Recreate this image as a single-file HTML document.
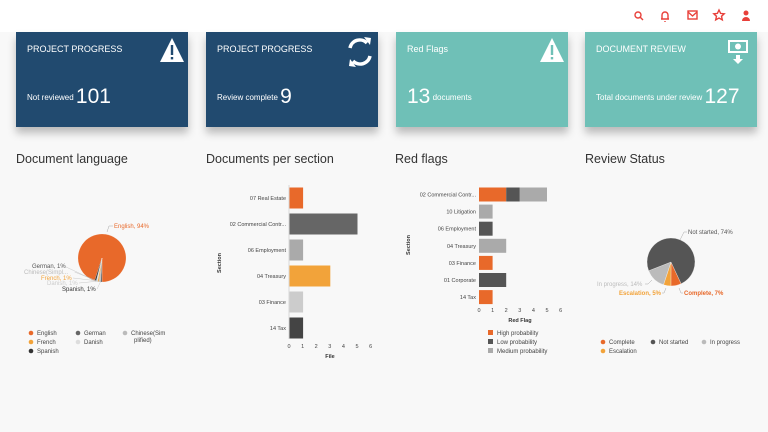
<!DOCTYPE html>
<html><head><meta charset="utf-8"><style>
body{margin:0;width:768px;height:432px;overflow:hidden;background:#f8f8f8;font-family:"Liberation Sans",sans-serif;position:relative}
.top{position:absolute;left:0;top:0;width:768px;height:32px;background:#fff}
.card{position:absolute;top:32px;width:172px;height:95px;box-shadow:0 6px 8px rgba(0,0,0,0.25);color:#fff}
.card .t{position:absolute;left:11px;top:12px;font-size:9px}
.card .s{position:absolute;left:11px;top:53px;font-size:8px}
.card .n{font-size:21px;vertical-align:-3px}
.dark{background:#214a6f}.teal{background:#6fc0b7}
.h{position:absolute;top:152px;font-size:12.5px;color:#333}
svg{position:absolute;left:0;top:0}
</style></head><body>
<div class="top"></div>
<svg width="768" height="32">
<g fill="none" stroke="#e8403a" stroke-width="1.4">
<circle cx="638" cy="15" r="3"/><line x1="640" y1="17" x2="643" y2="20"/>
<path d="M661 19h8M662 19v-4a3 3 0 0 1 6 0v4M665 21v1"/>
<rect x="688" y="11" width="9" height="8"/><path d="M688 12l4.5 4 4.5-4"/>
<path d="M719 10l1.6 3.4 3.6.4-2.7 2.5.8 3.6-3.3-1.9-3.3 1.9.8-3.6-2.7-2.5 3.6-.4z"/>
</g>
<g fill="#e8403a"><circle cx="746" cy="13" r="2.5"/><path d="M742 21a4 4 0 0 1 8 0z"/></g>
</svg>
<div class="card dark" style="left:16px"><div class="t">PROJECT PROGRESS</div><div class="s">Not reviewed <span class="n">101</span></div></div>
<div class="card dark" style="left:206px"><div class="t">PROJECT PROGRESS</div><div class="s">Review complete <span class="n">9</span></div></div>
<div class="card teal" style="left:396px"><div class="t">Red Flags</div><div class="s"><span class="n">13</span> documents</div></div>
<div class="card teal" style="left:585px"><div class="t">DOCUMENT REVIEW</div><div class="s">Total documents under review <span class="n">127</span></div></div>
<svg width="768" height="140" style="top:0">
<g fill="#fff">
<path d="M172 38l12 24h-24z"/><path d="M552 38l12 24h-24z"/>
</g>
<g fill="#214a6f"><rect x="170.8" y="45" width="2.4" height="10"/><rect x="170.8" y="57" width="2.4" height="2.4"/></g>
<g fill="#6fc0b7"><rect x="550.8" y="45" width="2.4" height="10"/><rect x="550.8" y="57" width="2.4" height="2.4"/></g>
<g fill="none" stroke="#fff" stroke-width="3.5"><path d="M350 48a10 10 0 0 1 17-5"/><path d="M370 56a10 10 0 0 1-17 5"/></g>
<g fill="#fff"><path d="M364 37l7 1-1 7z"/><path d="M356 67l-7-1 1-7z"/>
<rect x="728" y="40" width="20" height="13"/><path d="M736 55h4v4h3l-5 5-5-5h3z"/></g>
<g fill="#6fc0b7"><rect x="730" y="42" width="16" height="9"/></g><circle cx="738" cy="46.5" r="3" fill="#fff"/>
</svg>
<div class="h" style="left:16px">Document language</div>
<div class="h" style="left:206px">Documents per section</div>
<div class="h" style="left:395px">Red flags</div>
<div class="h" style="left:585px">Review Status</div>
<svg id="c" width="768" height="432"></svg>
<script>
const langNames=["English","German","Chinese(Simpl...","French","Danish","Spanish"];
const langVals=[94,1,1,1,1,1];
const langColors=["#e8692a","#666","#bbb","#f2a33a","#ddd","#333"];
const secCats=["07 Real Estate","02 Commercial Contr...","06 Employment","04 Treasury","03 Finance","14 Tax"];
const secVals=[1,5,1,3,1,1];
const secColors=["#e8692a","#666","#aaa","#f2a33a","#ccc","#444"];
const rfCats=["02 Commercial Contr...","10 Litigation","06 Employment","04 Treasury","03 Finance","01 Corporate","14 Tax"];
const rfHigh=[2,0,0,0,1,0,1];
const rfLow=[1,0,1,0,0,2,0];
const rfMed=[2,1,0,2,0,0,0];
const xTicks=[0,1,2,3,4,5,6];
const revNames=["Complete","Escalation","In progress","Not started"];
const revVals=[7,5,14,74];
const revColors=["#e8692a","#f2a33a","#bbb","#555"];
const S=document.getElementById('c'),NS='http://www.w3.org/2000/svg';
function mk(t,a,p){const e=document.createElementNS(NS,t);for(const k in a)e.setAttribute(k,a[k]);(p||S).appendChild(e);return e;}
function tx(x,y,s,o){const e=mk('text',Object.assign({x:x,y:y,'font-size':6,fill:'#444','font-family':'Liberation Sans, sans-serif'},o||{}));e.textContent=s;return e;}
function pie(cx,cy,r,vals,cols,start,name,sw0){let tot=vals.reduce((a,b)=>a+b,0),a=start;const out=[];
 vals.forEach((v,i)=>{const sw=v/tot*360,a1=a*Math.PI/180,a2=(a+sw)*Math.PI/180;
  const x1=cx+r*Math.sin(a1),y1=cy-r*Math.cos(a1),x2=cx+r*Math.sin(a2),y2=cy-r*Math.cos(a2);
  const p=mk('path',{d:`M${cx} ${cy}L${x1} ${y1}A${r} ${r} 0 ${sw>180?1:0} 1 ${x2} ${y2}Z`,fill:cols[i],stroke:'#fff','stroke-width':sw0});
  
  
  out.push(a+sw/2);a+=sw;});return out;}
// pie 1
const small=langVals.slice(1).reduce((a,b)=>a+b,0);
pie(102,258,24,langVals,langColors,180+small/100*360,'language',0.15);
tx(114,228,'English, 94%',{fill:'#e8692a'});mk('path',{d:'M113 226h-4l-2 6',fill:'none',stroke:'#aaa','stroke-width':0.5});
const ll=[["German, 1%",32,268,'#555'],["Chinese(Simpl...",24,274,'#bbb'],["French, 1%",41,280,'#f2a33a'],["Danish, 1%",47,285,'#ccc'],["Spanish, 1%",62,291,'#333']];
ll.forEach((l,i)=>{const t=tx(l[1],l[2],l[0],{fill:l[3]});const w=l[0].length*3.1;mk('path',{d:`M${l[1]+w+1} ${l[2]-2}L${96+i*1.2} 281`,fill:'none',stroke:'#bbb','stroke-width':0.4});});
const lg1=[["English",33,335,0],["German",80,335,1],["Chinese(Sim",127,335,2],["plified)",134,342,-1],["French",33,344,3],["Danish",80,344,4],["Spanish",33,353,5]];
lg1.forEach(l=>{if(l[3]>=0){const c=mk('circle',{cx:l[1]-2,cy:l[2]-2,r:2.3,fill:langColors[l[3]]});}tx(l[1]+(l[3]>=0?4:0),l[2],l[0]);});
// bar chart 1
const bx0=289,bu=13.6,by0=198,bp=26;
mk('line',{x1:bx0,y1:185,x2:bx0,y2:339,stroke:'#ccc','stroke-width':0.7});
secCats.forEach((c,i)=>{const y=by0+i*bp;const r=mk('rect',{x:bx0+0.5,y:y-10.5,width:secVals[i]*bu,height:21,fill:secColors[i]});tx(bx0-3,y+2,c,{'text-anchor':'end','font-size':5.5});});
xTicks.forEach(t=>tx(bx0+t*bu,348,t,{'text-anchor':'middle','font-size':5.5}));
tx(330,358,'File',{'text-anchor':'middle','font-weight':'bold','font-size':5.5,fill:'#333'});
tx(0,0,'Section',{transform:'translate(221,263) rotate(-90)','text-anchor':'middle','font-weight':'bold','font-size':5.5,fill:'#333'});
// bar chart 2
const rx0=479,ry0=194.5,rp=17.1;
rfCats.forEach((c,i)=>{const y=ry0+i*rp;let x=rx0;[[rfHigh,'#e8692a'],[rfLow,'#555'],[rfMed,'#aaa']].forEach(s=>{const v=s[0][i];if(v>0){const r=mk('rect',{x:x,y:y-7,width:v*bu,height:14,fill:s[1]});x+=v*bu;}});tx(rx0-3,y+2,c,{'text-anchor':'end','font-size':5.5});});
xTicks.forEach(t=>tx(rx0+t*bu,312,t,{'text-anchor':'middle','font-size':5.5}));
tx(520,322,'Red Flag',{'text-anchor':'middle','font-weight':'bold','font-size':5.5,fill:'#333'});
tx(0,0,'Section',{transform:'translate(410,245) rotate(-90)','text-anchor':'middle','font-weight':'bold','font-size':5.5,fill:'#333'});
[["High probability",'#e8692a',335],["Low probability",'#555',344],["Medium probability",'#aaa',353]].forEach(l=>{const r=mk('rect',{x:488,y:l[2]-5,width:5,height:5,fill:l[1]});tx(497,l[2],l[0]);});
// pie 2
pie(671,262,24,revVals,revColors,155,'review',0.3);
tx(688,234,'Not started, 74%',{fill:'#555'});mk('path',{d:'M687 232h-3l-4 8',fill:'none',stroke:'#aaa','stroke-width':0.5});
tx(597,286,'In progress, 14%',{fill:'#bbb'});mk('path',{d:'M645 284h3l4-4',fill:'none',stroke:'#aaa','stroke-width':0.5});
tx(619,295,'Escalation, 5%',{fill:'#f2a33a','font-weight':'bold'});mk('path',{d:'M662 293h2l2-5',fill:'none',stroke:'#aaa','stroke-width':0.5});
tx(684,295,'Complete, 7%',{fill:'#e8692a','font-weight':'bold'});mk('path',{d:'M683 293h-2l-2-5',fill:'none',stroke:'#aaa','stroke-width':0.5});
[["Complete",605,344,0],["Not started",655,344,3],["In progress",706,344,2],["Escalation",605,353,1]].forEach(l=>{const c=mk('circle',{cx:l[1]-2,cy:l[2]-2,r:2.3,fill:revColors[l[3]]});tx(l[1]+4,l[2],l[0]);});
</script>
</body></html>
